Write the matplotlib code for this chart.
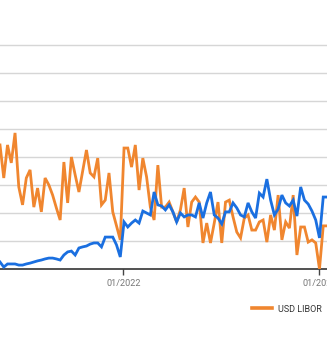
import numpy as np
import pandas as pd
import matplotlib
matplotlib.use("Agg")
import matplotlib.pyplot as plt
import matplotlib.dates as mdates
from matplotlib.lines import Line2D

WIDTH = 327
HEIGHT = 344
DPI = 100

ORANGE = "#f0862f"
BLUE = "#1a6fe0"

# weekly points, Sundays
start_date = "2021-05-16"

usd_libor = [44.3, 32.5, 44.3, 37.9, 48.6, 29.3, 22.9, 32.5, 35.4, 22.1,
             28.9, 20.4, 32.5, 30.0, 26.4, 21.8, 17.5, 38.2, 23.6, 40.0,
             33.6, 27.5, 35.0, 42.5, 34.3, 32.9, 39.6, 22.9, 24.6, 34.3,
             20.4, 15.4, 10.4,
             43.2, 43.2, 36.4, 44.3, 28.2, 39.6, 32.9, 22.1, 17.5, 37.1,
             22.1, 22.1, 23.9, 20.4, 16.8, 21.1, 28.9, 15.0, 23.9, 25.7,
             23.9, 9.3, 16.4, 9.3, 16.4, 23.9, 9.3, 23.9, 24.6, 18.6,
             13.2, 11.1, 18.2, 19.3, 13.9, 13.9, 16.8, 17.5, 9.6, 19.3,
             13.9, 26.4, 10.4, 16.8, 14.6, 26.4, 5.0, 15.0, 15.0, 9.6,
             10.4, 9.3, 0.0, 15.4, 15.4]

other_rate = [2.5, 0.7, 1.8, 1.8, 1.8, 1.4, 1.4, 1.8, 2.1, 2.5,
              2.9, 3.2, 3.6, 3.9, 3.9, 3.6, 3.2, 5.0, 6.1, 6.4,
              5.0, 7.5, 7.9, 8.2, 8.9, 9.3, 9.3, 7.9, 11.4, 11.4,
              11.4, 8.6, 4.3,
              16.8, 15.0, 16.4, 17.5, 16.4, 20.7, 20.0, 19.3, 27.5, 22.9,
              22.5, 21.1, 22.9, 20.4, 16.8, 20.0, 18.6, 19.3, 19.3, 18.6,
              23.6, 18.2, 23.6, 27.5, 19.3, 18.2, 16.1, 20.4, 20.4, 23.6,
              21.8, 19.3, 18.6, 23.6, 20.4, 18.2, 27.1, 25.7, 32.1, 24.6,
              19.3, 21.4, 26.4, 23.6, 22.5, 24.6, 18.9, 29.3, 24.6, 23.2,
              20.7, 17.5, 11.1, 25.7, 25.7]

grid_values = [10, 20, 30, 40, 50, 60, 70, 80]
tick_dates = ["2022-01-01", "2023-01-01"]
tick_labels = ["01/2022", "01/2023"]
legend_label = "USD LIBOR"

plt.rcParams['font.family'] = ['Roboto', 'DejaVu Sans']

dates = pd.date_range(start_date, periods=len(usd_libor), freq="7D")

fig = plt.figure(figsize=(WIDTH / DPI, HEIGHT / DPI), dpi=DPI)

# axes run past the left/right edges of the picture, like a cropped screenshot
bottom = 1 - 269 / HEIGHT
top = 1 - (269 - 85 * 2.8) / HEIGHT
ax = fig.add_axes([0, bottom, 1, top - bottom])

ax.plot(dates, usd_libor, color=ORANGE, lw=2.0, solid_joinstyle="miter", zorder=3)
ax.plot(dates, other_rate, color=BLUE, lw=2.0, solid_joinstyle="miter", zorder=4)

ax.set_xlim(dates[0], dates[-1])
ax.set_ylim(0, 85)

ax.set_yticks(grid_values)
ax.yaxis.grid(True, color="#d6d6d6", lw=1.0)
ax.tick_params(axis="y", left=False, labelleft=False)

ax.set_xticks([mdates.datestr2num(d) for d in tick_dates])
ax.set_xticklabels(tick_labels)
ax.tick_params(axis="x", length=4, width=1, color="#444444",
               labelsize=6.6, labelcolor="#777777", pad=3)

for side in ["top", "left", "right"]:
    ax.spines[side].set_visible(False)
ax.spines["bottom"].set_color("#333333")
ax.spines["bottom"].set_linewidth(1.2)
ax.set_axisbelow(True)

# legend, only the orange entry is inside the crop
handle = Line2D([], [], color=ORANGE, lw=2.6)
fig.legend([handle], [legend_label], loc="center left",
           bbox_to_anchor=(247 / WIDTH, 1 - 309 / HEIGHT),
           frameon=False, borderpad=0, handlelength=2.3, handletextpad=0.6,
           prop={"size": 6.5}, labelcolor="#333333")

fig.savefig("out.png", dpi=DPI)
